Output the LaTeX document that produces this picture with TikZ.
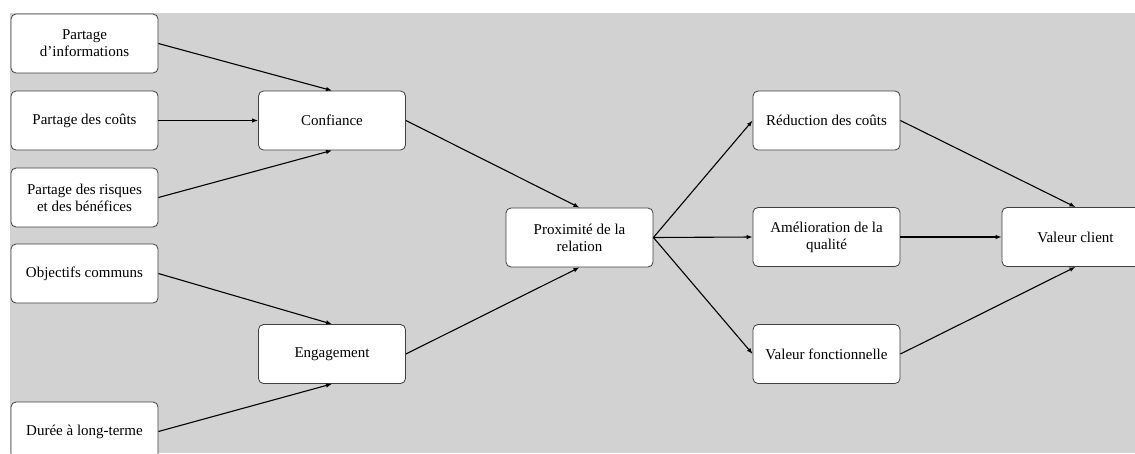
\documentclass[tikz,border=0pt]{standalone}
\usepackage{fontspec}
\setmainfont{Liberation Serif}
\usetikzlibrary{arrows.meta}
\begin{document}
\begin{tikzpicture}[x=1pt,y=-1pt,
  bloc/.style={draw=black!75,fill=white,rounded corners=5pt,line width=0.8pt,
    minimum width=147pt,minimum height=59pt,align=center,
    font=\fontsize{15}{17}\selectfont},
  fleche/.style={-{Latex[length=6pt,width=4.5pt]},line width=1.1pt}]
  \clip (0,0) rectangle (1135,453);
  \fill[white] (0,0) rectangle (1135,453);
  \fill[gray!35] (10,13) rectangle (1135,453);
  % facteurs
  \node [bloc] (info) at (84.5,43.5) {Partage\\d'informations};
  \node [bloc] (couts) at (84.5,120.5) {Partage des coûts};
  \node [bloc] (risques) at (84.5,197.5) {Partage des risques\\et des bénéfices};
  \node [bloc] (objectifs) at (84.5,273.5) {Objectifs communs};
  \node [bloc] (duree) at (84.5,431.5) {Durée à long-terme};
  \node [bloc] (confiance) at (332,120.5) {Confiance};
  \node [bloc] (engagement) at (332,354) {Engagement};
  \node [bloc] (proximite) at (579.5,237.5) {Proximité de la\\relation};
  % effets
  \node [bloc] (reduction) at (826.5,120.5) {Réduction des coûts};
  \node [bloc] (qualite) at (826.5,237) {Amélioration de la\\qualité};
  \node [bloc] (fonction) at (826.5,354) {Valeur fonctionnelle};
  \node [bloc] (client) at (1075.5,237) {Valeur client};
  \draw [fleche] (info.east) -- (confiance.north);
  \draw [fleche] (couts.east) -- (confiance.west);
  \draw [fleche] (risques.east) -- (confiance.south);
  \draw [fleche] (objectifs.east) -- (engagement.north);
  \draw [fleche] (duree.east) -- (engagement.south);
  \draw [fleche] (confiance.east) -- (proximite.north);
  \draw [fleche] (engagement.east) -- (proximite.south);
  \draw [fleche] (proximite.east) -- (reduction.west);
  \draw [fleche] (proximite.east) -- (qualite.west);
  \draw [fleche] (proximite.east) -- (fonction.west);
  \draw [fleche] (reduction.east) -- (client.north);
  \draw [fleche] (qualite.east) -- (client.west);
  \draw [fleche] (fonction.east) -- (client.south);
\end{tikzpicture}
\end{document}
